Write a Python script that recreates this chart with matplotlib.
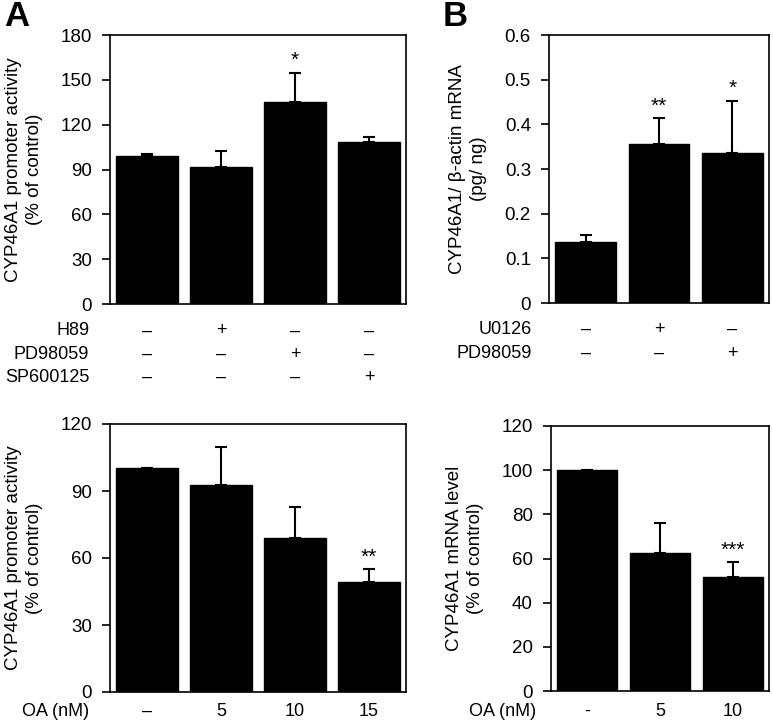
import numpy as np
import matplotlib
matplotlib.use("Agg")
import matplotlib.pyplot as plt

plt.rcParams['font.family'] = ['Liberation Sans', 'DejaVu Sans']

# panel A top
a1_vals = [99.3, 91.5, 135.4, 108.2]
a1_err = [0.8, 11.1, 19.4, 3.8]
a1_stars = ['', '', '*', '']
a1_rows = ['H89', 'PD98059', 'SP600125']
a1_signs = [['–', '+', '–', '–'],
            ['–', '–', '+', '–'],
            ['–', '–', '–', '+']]

# panel B top
b1_vals = [0.136, 0.357, 0.335]
b1_err = [0.017, 0.057, 0.118]
b1_stars = ['', '**', '*']
b1_rows = ['U0126', 'PD98059']
b1_signs = [['–', '+', '–'],
            ['–', '–', '+']]

# panel A bottom
a2_vals = [100.3, 92.5, 69.0, 49.2]
a2_err = [0.0, 17.2, 13.8, 5.7]
a2_stars = ['', '', '', '**']
a2_labels = ['–', '5', '10', '15']

# panel B bottom
b2_vals = [99.9, 62.3, 51.6]
b2_err = [0.3, 13.8, 6.8]
b2_stars = ['', '', '***']
b2_labels = ['-', '5', '10']

W, H = 773, 728
fig = plt.figure(figsize=(W / 100, H / 100), dpi=100)
FS = 13


def make_ax(x0, y0, x1, y1):
    return fig.add_axes([x0 / W, 1 - y1 / H, (x1 - x0) / W, (y1 - y0) / H])


def bars(ax, vals, err, stars, ymax, step, ylabel, fmt=None):
    x = np.arange(len(vals))
    ax.bar(x, vals, width=0.83, color='black', edgecolor='black')
    ax.errorbar(x, vals, yerr=[np.zeros(len(vals)), err], fmt='none',
                ecolor='black', elinewidth=1.5, capsize=4.5, capthick=1.5)
    for i, s in enumerate(stars):
        if s:
            ax.text(x[i], vals[i] + err[i] + ymax * 0.01, s, ha='center',
                    va='bottom', fontsize=15)
    ax.set_xlim(-0.5, len(vals) - 0.5)
    ax.set_ylim(0, ymax)
    ticks = np.arange(0, ymax + step / 2, step)
    ax.set_yticks(ticks)
    if fmt:
        ax.set_yticklabels([fmt(t) for t in ticks])
    ax.set_xticks([])
    ax.tick_params(axis='y', direction='out', length=6, width=1.2, pad=7,
                   labelsize=13.5)
    for sp in ax.spines.values():
        sp.set_linewidth(1.2)
    ax.set_ylabel(ylabel, fontsize=13.5, linespacing=1.25, labelpad=13)


ax1 = make_ax(110, 35, 406, 304)
bars(ax1, a1_vals, a1_err, a1_stars, 180, 30,
     'CYP46A1 promoter activity\n(% of control)')
for r, (name, signs) in enumerate(zip(a1_rows, a1_signs)):
    y = -0.1 - r * 0.087
    ax1.text(-0.07, y, name, transform=ax1.transAxes, ha='right', va='center', fontsize=FS)
    for i, s in enumerate(signs):
        ax1.text(i, y, s, transform=ax1.get_xaxis_transform(), ha='center',
                 va='center', fontsize=FS)

ax2 = make_ax(549, 35, 769, 303)
bars(ax2, b1_vals, b1_err, b1_stars, 0.6, 0.1,
     'CYP46A1/ β-actin mRNA\n(pg/ ng)', fmt=lambda t: '0' if t == 0 else f'{t:.1f}')
for r, (name, signs) in enumerate(zip(b1_rows, b1_signs)):
    y = -0.1 - r * 0.087
    ax2.text(-0.08, y, name, transform=ax2.transAxes, ha='right', va='center', fontsize=FS)
    for i, s in enumerate(signs):
        ax2.text(i, y, s, transform=ax2.get_xaxis_transform(), ha='center',
                 va='center', fontsize=FS)

ax3 = make_ax(110, 424, 406, 692)
bars(ax3, a2_vals, a2_err, a2_stars, 120, 30,
     'CYP46A1 promoter activity\n(% of control)')
ax3.text(-0.07, -0.072, 'OA (nM)', transform=ax3.transAxes, ha='right', va='center', fontsize=FS)
for i, s in enumerate(a2_labels):
    ax3.text(i, -0.072, s, transform=ax3.get_xaxis_transform(), ha='center',
             va='center', fontsize=FS)

ax4 = make_ax(551, 426, 769, 691)
bars(ax4, b2_vals, b2_err, b2_stars, 120, 20,
     'CYP46A1 mRNA level\n(% of control)')
ax4.text(-0.07, -0.076, 'OA (nM)', transform=ax4.transAxes, ha='right', va='center', fontsize=FS)
for i, s in enumerate(b2_labels):
    ax4.text(i, -0.076, s, transform=ax4.get_xaxis_transform(), ha='center',
             va='center', fontsize=FS)

fig.text(4 / W, 1 - 16 / H, 'A', fontsize=25, fontweight='bold', va='center', ha='left')
fig.text(443 / W, 1 - 16 / H, 'B', fontsize=25, fontweight='bold', va='center', ha='left')

fig.savefig('out.png', dpi=100)
